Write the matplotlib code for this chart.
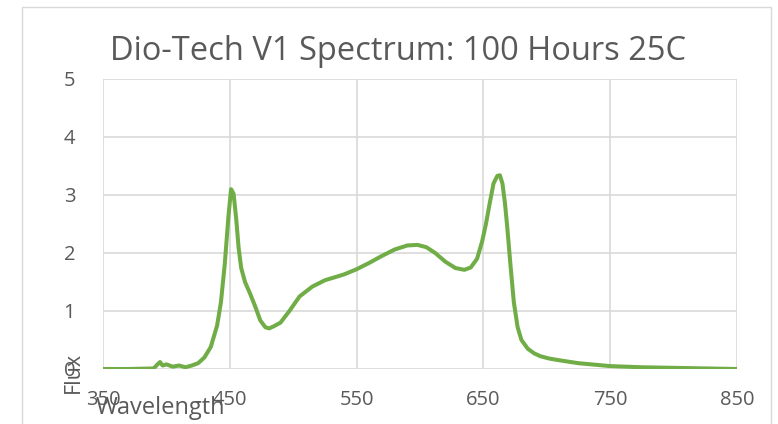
import matplotlib.pyplot as plt
import numpy as np
from matplotlib.patches import Rectangle

# spectrum
wavelength = [350, 370, 390, 393, 395, 397, 400, 405, 410, 415, 420, 425, 430, 435, 440,
              443, 446, 449, 451, 453, 455, 457, 459, 462, 466, 470, 474, 478, 481, 485, 490,
              497, 505, 515, 525, 540, 550, 560, 570, 580, 590, 598, 605, 612, 620, 628,
              635, 640, 645, 649, 652, 655, 658, 661, 663, 665, 667, 669, 671, 674, 677,
              680, 685, 690, 695, 702, 710, 725, 750, 775, 800, 825, 850]
flux = [0.0, 0.0, 0.01, 0.08, 0.12, 0.06, 0.08, 0.04, 0.06, 0.03, 0.06, 0.1, 0.2, 0.38, 0.75,
        1.15, 1.8, 2.65, 3.1, 3.02, 2.6, 2.08, 1.74, 1.5, 1.3, 1.08, 0.84, 0.72, 0.70, 0.74, 0.80,
        1.0, 1.25, 1.42, 1.53, 1.63, 1.72, 1.83, 1.95, 2.06, 2.13, 2.14, 2.1, 2.0, 1.85, 1.74,
        1.71, 1.75, 1.9, 2.2, 2.5, 2.86, 3.2, 3.33, 3.34, 3.2, 2.86, 2.4, 1.88, 1.15, 0.72,
        0.5, 0.35, 0.27, 0.22, 0.18, 0.15, 0.1, 0.05, 0.03, 0.02, 0.01, 0.0]

xticks = [350, 450, 550, 650, 750, 850]
yticks = [0, 1, 2, 3, 4, 5]

txt = '#595959'
grid = '#D9D9D9'

fig = plt.figure(figsize=(7.78, 4.24), dpi=100)
W, H = 778, 424

# chart area border
fig.patches.append(Rectangle((22 / W, -0.1), (771 - 22) / W, 1.1 - 7 / H,
                             transform=fig.transFigure, fill=False,
                             edgecolor=grid, linewidth=1))

ax = fig.add_axes([103 / W, 1 - 369 / H, (737 - 103) / W, (369 - 79) / H])
ax.plot(wavelength, flux, color='#70AD47', linewidth=2.9,
        solid_capstyle='round', solid_joinstyle='round')
ax.set_xlim(350, 850)
ax.set_ylim(0, 5)
ax.set_xticks(xticks)
ax.set_yticks(yticks)
ax.grid(True, color=grid, linewidth=1.2)
ax.set_axisbelow(True)
for s in ax.spines.values():
    s.set_visible(False)
ax.tick_params(length=0, labelsize=14.5, labelcolor=txt, pad=20)
ax.tick_params(axis='x', pad=15)
for lab in ax.get_xticklabels() + ax.get_yticklabels():
    lab.set_fontfamily('Open Sans')

fig.text(398 / W, 1 - 52 / H, 'Dio-Tech V1 Spectrum: 100 Hours 25C', ha='center', va='center',
         fontsize=23.5, color=txt, fontfamily='Open Sans')
fig.text(73 / W, 1 - 372 / H, 'Flux', rotation=90, ha='center', va='center',
         fontsize=15.5, color=txt, fontfamily='Open Sans')
fig.text(160 / W, 1 - 408 / H, 'Wavelength', ha='center', va='center',
         fontsize=17, color=txt, fontfamily='Open Sans')

fig.savefig('out.png', dpi=100)
